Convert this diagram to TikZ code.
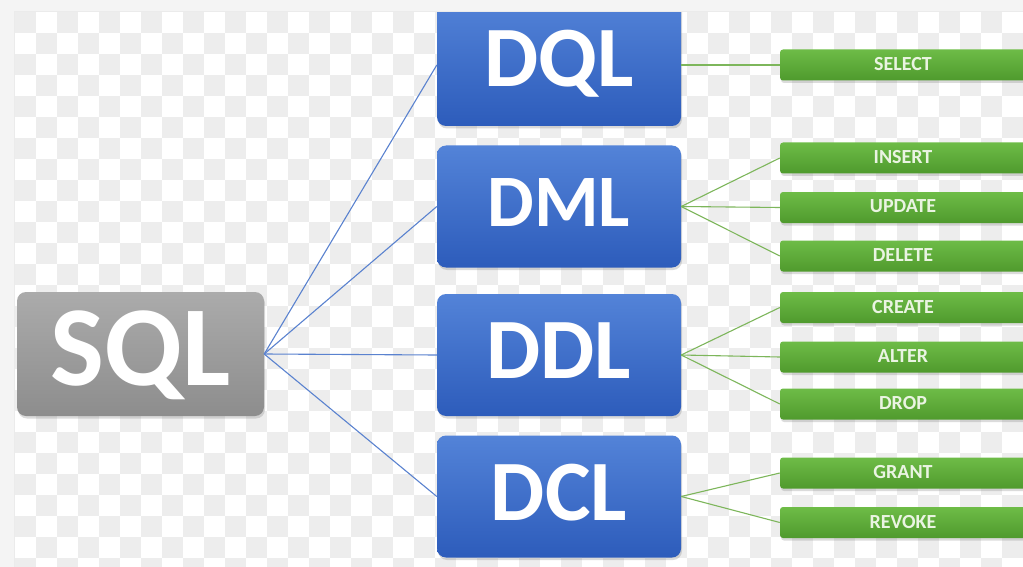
\documentclass[tikz,border=0pt]{standalone}
\usepackage{fontspec}
\setmainfont{Carlito}
\usetikzlibrary{shadows}
\definecolor{sqltop}{HTML}{ABABAB}
\definecolor{sqlbot}{HTML}{8D8D8D}
\definecolor{bluetop}{HTML}{5383D8}
\definecolor{bluebot}{HTML}{2D5CBB}
\definecolor{greentop}{HTML}{6EBC47}
\definecolor{greenbot}{HTML}{4F9A2D}
\definecolor{blueline}{HTML}{5A82CF}
\definecolor{greenline}{HTML}{7DB65B}
\definecolor{chk}{HTML}{EDEDED}
\definecolor{band}{HTML}{F4F4F4}
\definecolor{gtext}{HTML}{EAF4E2}
\tikzset{
  softshadow/.style={drop shadow={opacity=0.28, shadow xshift=1pt, shadow yshift=-2.5pt}},
  sqlbox/.style={rounded corners=9pt, top color=sqltop, bottom color=sqlbot, draw=none,
    minimum width=247pt, minimum height=124pt, inner sep=0pt, text=white,
    font=\bfseries\fontsize{114pt}{114pt}\selectfont, text depth=12pt, softshadow},
  langbox/.style={rounded corners=9pt, top color=bluetop, bottom color=bluebot, draw=none,
    minimum width=244pt, minimum height=122pt, inner sep=0pt, text=white,
    font=\bfseries\fontsize{86pt}{86pt}\selectfont, text depth=8pt, softshadow},
  cmdbox/.style={rounded corners=3pt, top color=greentop, bottom color=greenbot, draw=none,
    minimum width=246pt, minimum height=31pt, inner sep=0pt, text=gtext,
    font=\bfseries\fontsize{20pt}{20pt}\selectfont, text depth=2pt, softshadow},
  bline/.style={draw=blueline, line width=1.1pt},
  gline/.style={draw=greenline, line width=1.1pt},
}
\begin{document}
\begin{tikzpicture}[x=1pt,y=-1pt]
\useasboundingbox (0,0) rectangle (1023,567);
\clip (0,0) rectangle (1023,567);
\fill[white] (0,0) rectangle (1023,567);
\foreach \i in {0,...,48}{
  \foreach \j in {0,...,26}{
    \pgfmathtruncatemacro\chkpar{mod(\i+\j,2)}
    \ifnum\chkpar=0 \fill[chk] ({15+21*\i},{12+21*\j}) rectangle +(21,21);\fi
  }
}
% main nodes
\node[sqlbox] (SQL) at (140.5,354) {SQL};
\node[langbox, minimum height=128pt] (DQL) at (559,62) {DQL};
\node[langbox, font=\bfseries\fontsize{74pt}{74pt}\selectfont] (DML) at (559,206.5) {DML};
\node[langbox] (DDL) at (559,355) {DDL};
\node[langbox] (DCL) at (559,496.5) {DCL};
% commands
\node[cmdbox] (SELECT) at (903,65) {SELECT};
\node[cmdbox] (INSERT) at (903,158) {INSERT};
\node[cmdbox] (UPDATE) at (903,207.5) {UPDATE};
\node[cmdbox] (DELETE) at (903,256) {DELETE};
\node[cmdbox] (CREATE) at (903,307.5) {CREATE};
\node[cmdbox] (ALTER) at (903,357) {ALTER};
\node[cmdbox] (DROP) at (903,404) {DROP};
\node[cmdbox] (GRANT) at (903,473) {GRANT};
\node[cmdbox] (REVOKE) at (903,522.5) {REVOKE};
% connectors SQL -> languages
\draw[bline] (SQL.east) -- (DQL.west |- SELECT.west);
\draw[bline] (SQL.east) -- (DML.west);
\draw[bline] (SQL.east) -- (DDL.west);
\draw[bline] (SQL.east) -- (DCL.west);
% connectors languages -> commands
\draw[gline] (DQL.east |- SELECT.west) -- (SELECT.west);
\draw[gline] (DML.east) -- (INSERT.west);
\draw[gline] (DML.east) -- (UPDATE.west);
\draw[gline] (DML.east) -- (DELETE.west);
\draw[gline] (DDL.east) -- (CREATE.west);
\draw[gline] (DDL.east) -- (ALTER.west);
\draw[gline] (DDL.east) -- (DROP.west);
\draw[gline] (DCL.east) -- (GRANT.west);
\draw[gline] (DCL.east) -- (REVOKE.west);
% frame bands
\fill[band] (0,0) rectangle (1023,11);
\fill[band] (0,0) rectangle (14,567);
\draw[line width=0.6pt, draw=black!8] (14,567) -- (14,11) -- (1023,11);
\end{tikzpicture}
\end{document}
